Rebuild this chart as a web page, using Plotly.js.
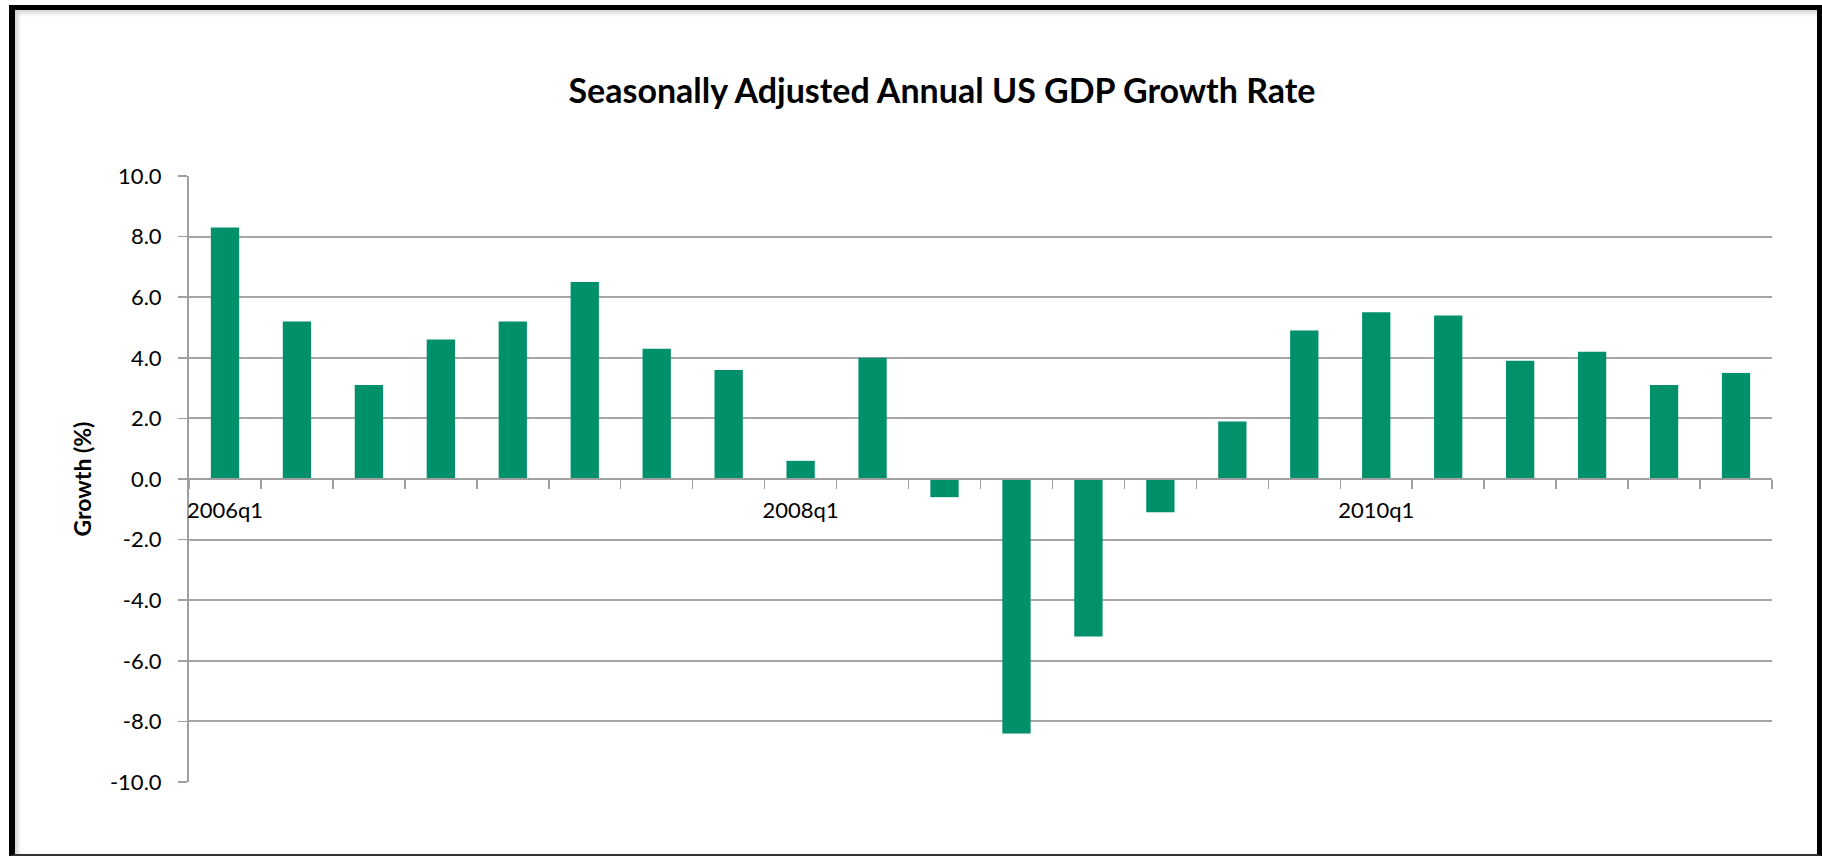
<!DOCTYPE html>
<html>
<head>
<meta charset="utf-8">
<script src="https://cdn.plot.ly/plotly-3.0.1.min.js"></script>
<style>
  html, body { margin: 0; padding: 0; background: #ffffff; }
  #chart { width: 1822px; height: 856px; position: absolute; left: 0; top: 0; }
  #frame {
    position: absolute; left: 9px; top: 5px; width: 1802px; height: 844px;
    border-left: 6px solid #000; border-top: 5px solid #000; border-right: 5px solid #000;
    border-bottom: 2px solid #333;
    box-shadow: inset 3px 3px 4px rgba(0,0,0,0.18);
    pointer-events: none; z-index: 10;
  }
</style>
</head>
<body>
<div id="chart"></div>
<div id="frame"></div>
<script>
// Quarters 2006q1 .. 2011q2
const quarters = [
  "2006q1","2006q2","2006q3","2006q4",
  "2007q1","2007q2","2007q3","2007q4",
  "2008q1","2008q2","2008q3","2008q4",
  "2009q1","2009q2","2009q3","2009q4",
  "2010q1","2010q2","2010q3","2010q4",
  "2011q1","2011q2"
];
// Growth (%)
const growth = [
  8.3, 5.2, 3.1, 4.6,
  5.2, 6.5, 4.3, 3.6,
  0.6, 4.0, -0.6, -8.4,
  -5.2, -1.1, 1.9, 4.9,
  5.5, 5.4, 3.9, 4.2,
  3.1, 3.5
];
// Displayed category labels (every 8th quarter)
const tickLabels = [
  "2006q1","","","","","","","",
  "2008q1","","","","","","","",
  "2010q1","","","","",""
];
const yTickVals = [-10, -8, -6, -4, -2, 0, 2, 4, 6, 8, 10];
const yTickText = ["-10.0","-8.0","-6.0","-4.0","-2.0","0.0","2.0","4.0","6.0","8.0","10.0"];

const trace = {
  type: "bar",
  x: quarters,
  y: growth,
  marker: { color: "#00906A", line: { width: 0 } },
  hoverinfo: "x+y"
};

const layout = {
  width: 1822, height: 856,
  paper_bgcolor: "#ffffff", plot_bgcolor: "#ffffff",
  margin: { l: 189, r: 50, t: 176, b: 74, pad: 0 },
  showlegend: false,
  bargap: 0.607,
  font: { family: "Lato, 'Open Sans', sans-serif", color: "#000" },
  title: {
    text: "<b>Seasonally Adjusted Annual US GDP Growth Rate</b>",
    font: { family: "Lato, 'Open Sans', sans-serif", size: 34, color: "#000" },
    xref: "container", x: 0.517, xanchor: "center",
    yref: "container", y: 0.894, yanchor: "middle"
  },
  xaxis: {
    type: "category",
    anchor: "free", position: 0.5,
    showline: true, linecolor: "#a0a0a0", linewidth: 2,
    showgrid: false, zeroline: false,
    ticks: "outside", tickson: "boundaries", ticklen: 9, tickwidth: 1.5, tickcolor: "#a0a0a0",
    tickmode: "array", tickvals: quarters, ticktext: tickLabels,
    tickangle: 0,
    ticklabelstandoff: 12,
    tickfont: { size: 22, color: "#000" }
  },
  yaxis: {
    range: [-10, 10],
    tickmode: "array", tickvals: yTickVals, ticktext: yTickText,
    showline: true, linecolor: "#a0a0a0", linewidth: 2,
    showgrid: true, gridcolor: "#a6a6a6", gridwidth: 2,
    zeroline: false,
    ticks: "outside", ticklen: 9, tickwidth: 1.5, tickcolor: "#a0a0a0",
    ticklabelstandoff: 12,
    tickfont: { size: 22, color: "#000" },
    title: {
      text: "<b>Growth (%)</b>",
      font: { size: 23, color: "#000" },
      standoff: 12
    }
  }
};

Plotly.newPlot("chart", [trace], layout, { displayModeBar: false, staticPlot: true });
</script>
</body>
</html>
